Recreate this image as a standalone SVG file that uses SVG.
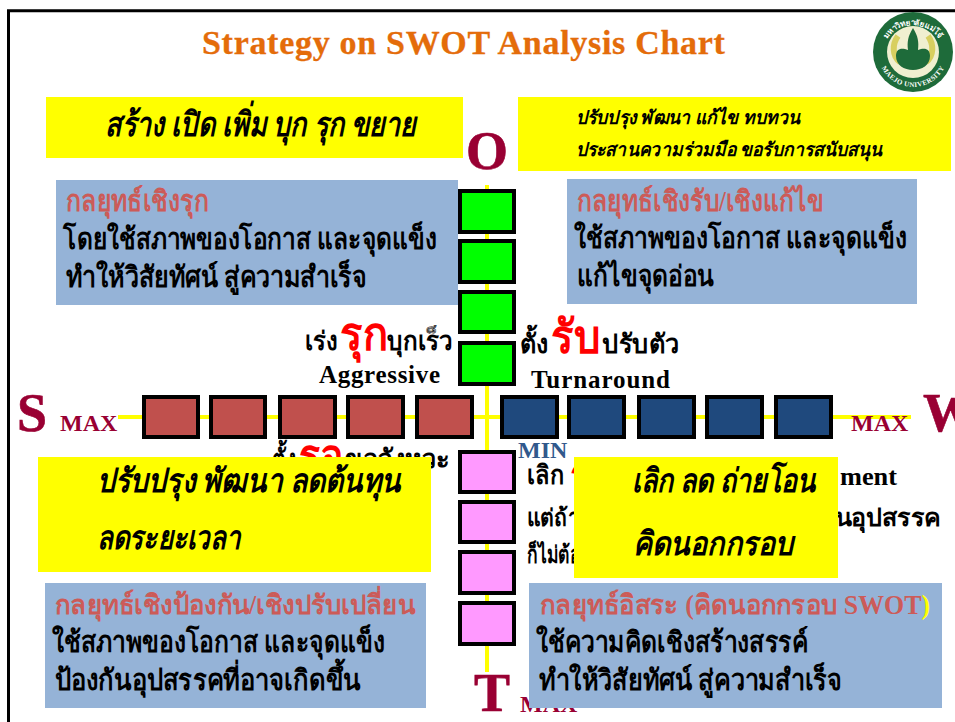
<svg xmlns="http://www.w3.org/2000/svg" width="955" height="722" viewBox="0 0 955 722">
<style>
text{font-family:"Liberation Serif","Noto Sans","DejaVu Sans",serif;font-weight:bold;fill:#000}
.y{fill:#FF0}.b{fill:#95B3D7}
.g,.r,.n,.p{stroke:#000;stroke-width:4}
.g{fill:#0F0}.r{fill:#C0504D}.n{fill:#1F497D}.p{fill:#F9F}
.ax{stroke:#FF0;stroke-width:4}
.L{font-size:54px;fill:#990033;stroke:#990033;stroke-width:.6px}.M{font-size:24px;fill:#990033}
.h{font-size:29px;fill:#CC5B58}.t{font-size:29px}
.i{font-style:italic}
.big{font-size:46px;fill:#F00}
.s{font-size:26px}
.e{font-size:25px}
.m{font-size:24px}
</style>
<rect width="955" height="722" fill="#fff"/>
<path d="M8.500 722V10.700H955" fill="none" stroke="#000" stroke-width="3"/>
<g id="connectors">
<line class="ax" x1="487" y1="185" x2="487" y2="672"/>
<line class="ax" x1="118" y1="417" x2="911" y2="417"/>
</g>
<g id="o-scale"><rect class="g" x="460" y="191" width="54" height="41"/><rect class="g" x="460" y="241" width="54" height="41"/><rect class="g" x="460" y="292" width="54" height="40"/><rect class="g" x="460" y="343" width="54" height="41"/></g>
<g id="s-scale"><rect class="r" x="144" y="397" width="54" height="40"/><rect class="r" x="211" y="397" width="54" height="40"/><rect class="r" x="280" y="397" width="55" height="40"/><rect class="r" x="348" y="397" width="55" height="40"/><rect class="r" x="417" y="397" width="55" height="40"/></g>
<g id="w-scale"><rect class="n" x="502" y="397" width="55" height="40"/><rect class="n" x="569" y="397" width="55" height="40"/><rect class="n" x="639" y="397" width="55" height="40"/><rect class="n" x="707" y="397" width="55" height="40"/><rect class="n" x="776" y="397" width="55" height="40"/></g>
<g id="t-scale"><rect class="p" x="460" y="452" width="54" height="40"/><rect class="p" x="460" y="502" width="54" height="40"/><rect class="p" x="460" y="552" width="54" height="41"/><rect class="p" x="460" y="603" width="54" height="41"/></g>
<text x="202" y="54" style="fill:#E46C0A;font-size:34px" letter-spacing="0.700" stroke="#E46C0A" stroke-width=".3">Strategy on SWOT Analysis Chart</text>
<g id="logo">
<circle cx="913" cy="52" r="40" fill="#1E6B3A"/>
<circle cx="913" cy="52" r="26" fill="#F0EFD0"/>
<path d="M898 36c-6 8-6 20 2 26M928 36c6 8 6 20-2 26" fill="none" stroke="#D8CF60" stroke-width="6"/>
<path d="M913 28c-5 8-6 14-5 22-7-3-12-1-12 6 0 9 8 14 17 14s17-5 17-14c0-7-5-9-12-6 1-8 0-14-5-22z" fill="#1E6B3A"/>
<path id="la" d="M878 52a35 35 0 0 0 70 0" fill="none"/>
<path id="lb" d="M882 56a31 31 0 1 1 62 0" fill="none"/>
<text style="fill:#fff;font-size:7px" letter-spacing=".4"><textPath href="#la" startOffset="50%" text-anchor="middle">MAEJO UNIVERSITY</textPath></text>
<text style="fill:#fff;font-size:8px"><textPath href="#lb" startOffset="50%" text-anchor="middle">มหาวิทยาลัยแม่โจ้</textPath></text>
</g>
<g id="txt-hidden">
<text class="s" x="272" y="468" textLength="24" lengthAdjust="spacingAndGlyphs">ตั้ง</text><text class="big" x="299" y="472" textLength="45" lengthAdjust="spacingAndGlyphs">รอ</text><text class="s" x="345" y="468" textLength="105" lengthAdjust="spacingAndGlyphs">ขอจังหวะ</text>
<text class="s" x="527" y="484" textLength="37" lengthAdjust="spacingAndGlyphs">เลิก</text><text class="big" x="570" y="490">ร</text>
<text class="e" x="840" y="485" textLength="57" lengthAdjust="spacingAndGlyphs">ment</text>
<text class="m" x="527" y="526" textLength="52" lengthAdjust="spacingAndGlyphs">แต่ถ้า</text>
<text class="m" x="819" y="526" textLength="122" lengthAdjust="spacingAndGlyphs">กันอุปสรรค</text>
<text class="m" x="527" y="563" textLength="62" lengthAdjust="spacingAndGlyphs">ก็ไม่ต้อง</text>
<text class="M" x="520" y="712">MAX</text>
</g>
<g id="box-so"><rect class="y" x="46" y="97" width="417" height="61"/><text class="i" x="105" y="136" style="font-size:34px" textLength="311" lengthAdjust="spacingAndGlyphs">สร้าง เปิด เพิ่ม บุก รุก ขยาย</text></g>
<g id="box-wo"><rect class="y" x="518" y="97" width="433" height="74"/><text class="i" x="576" y="124" style="font-size:19px" textLength="224" lengthAdjust="spacingAndGlyphs">ปรับปรุง พัฒนา แก้ไข ทบทวน</text><text class="i" x="576" y="156" style="font-size:19px" textLength="306" lengthAdjust="spacingAndGlyphs">ประสานความร่วมมือ ขอรับการสนับสนุน</text></g>
<g id="box-st"><rect class="y" x="38" y="457" width="393" height="115"/><text class="i" x="97" y="492" style="font-size:33px" textLength="304" lengthAdjust="spacingAndGlyphs">ปรับปรุง พัฒนา ลดต้นทุน</text><text class="i" x="97" y="549" style="font-size:33px" textLength="144" lengthAdjust="spacingAndGlyphs">ลดระยะเวลา</text></g>
<g id="box-wt"><rect class="y" x="574" y="457" width="264" height="121"/><text class="i" x="632" y="492" style="font-size:33px" textLength="184" lengthAdjust="spacingAndGlyphs">เลิก ลด ถ่ายโอน</text><text class="i" x="633" y="555" style="font-size:33px" textLength="160" lengthAdjust="spacingAndGlyphs">คิดนอกกรอบ</text></g>
<g id="strategy-so"><rect class="b" x="56" y="180" width="402" height="125"/><text class="h" x="66" y="211" textLength="143" lengthAdjust="spacingAndGlyphs">กลยุทธ์เชิงรุก</text><text class="t" x="63" y="249" textLength="374" lengthAdjust="spacingAndGlyphs">โดยใช้สภาพของโอกาส และจุดแข็ง</text><text class="t" x="66" y="287" textLength="301" lengthAdjust="spacingAndGlyphs">ทำให้วิสัยทัศน์ สู่ความสำเร็จ</text></g>
<g id="strategy-wo"><rect class="b" x="567" y="179" width="350" height="125"/><text class="h" x="577" y="211" textLength="247" lengthAdjust="spacingAndGlyphs">กลยุทธ์เชิงรับ/เชิงแก้ไข</text><text class="t" x="574" y="248" textLength="333" lengthAdjust="spacingAndGlyphs">ใช้สภาพของโอกาส และจุดแข็ง</text><text class="t" x="577" y="286" textLength="137" lengthAdjust="spacingAndGlyphs">แก้ไขจุดอ่อน</text></g>
<g id="strategy-st"><rect class="b" x="45" y="583" width="381" height="125"/><text class="h" x="55" y="614" style="font-size:27px" textLength="360" lengthAdjust="spacingAndGlyphs">กลยุทธ์เชิงป้องกัน/เชิงปรับเปลี่ยน</text><text class="t" x="52" y="652" textLength="333" lengthAdjust="spacingAndGlyphs">ใช้สภาพของโอกาส และจุดแข็ง</text><text class="t" x="55" y="690" textLength="306" lengthAdjust="spacingAndGlyphs">ป้องกันอุปสรรคที่อาจเกิดขึ้น</text></g>
<g id="strategy-wt"><rect class="b" x="529" y="583" width="413" height="125"/><text class="h" x="540" y="614" style="font-size:27px" textLength="390" lengthAdjust="spacingAndGlyphs">กลยุทธ์อิสระ (คิดนอกกรอบ SWOT<tspan style="fill:#FF0">)</tspan></text><text class="t" x="536" y="652" textLength="272" lengthAdjust="spacingAndGlyphs">ใช้ความคิดเชิงสร้างสรรค์</text><text class="t" x="539" y="690" textLength="303" lengthAdjust="spacingAndGlyphs">ทำให้วิสัยทัศน์ สู่ความสำเร็จ</text></g>
<g id="labels">
<text class="L" x="466" y="169">O</text><text class="L" x="17" y="431">S</text><text class="L" x="923" y="431">W</text><text class="L" x="474" y="711">T</text>
<text class="M" x="60" y="431">MAX</text><text class="M" x="851" y="431">MAX</text>
<text class="M" x="518" y="458" style="fill:#31598C">MIN</text>
<text class="s" x="305" y="350" textLength="33" lengthAdjust="spacingAndGlyphs">เร่ง</text><text class="big" x="340" y="350" textLength="48" lengthAdjust="spacingAndGlyphs">รุก</text><text class="s" x="387" y="350" textLength="66" lengthAdjust="spacingAndGlyphs">บุกเร็ว</text>
<text class="s" x="520" y="353" textLength="29" lengthAdjust="spacingAndGlyphs">ตั้ง</text><text class="big" x="551" y="353" textLength="49" lengthAdjust="spacingAndGlyphs">รับ</text><text class="s" x="602" y="353" textLength="78" lengthAdjust="spacingAndGlyphs">ปรับตัว</text>
<text class="e" x="319" y="383" textLength="121" lengthAdjust="spacing">Aggressive</text><text class="e" x="531" y="388" textLength="139" lengthAdjust="spacing">Turnaround</text>
</g>
</svg>
